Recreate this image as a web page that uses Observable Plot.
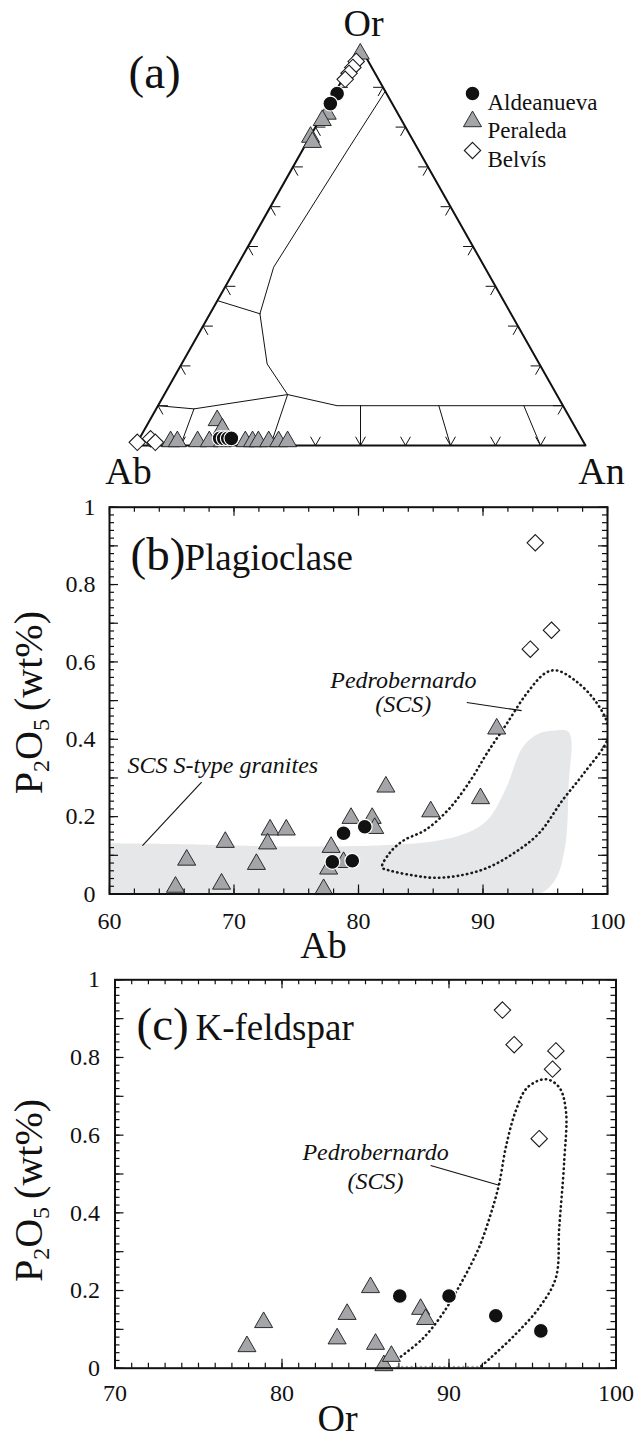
<!DOCTYPE html>
<html>
<head>
<meta charset="utf-8">
<script src="https://cdn.jsdelivr.net/npm/d3@7"></script>
<script src="https://cdn.jsdelivr.net/npm/@observablehq/plot@0.6"></script>
<style>
  html, body { margin: 0; padding: 0; background: #fff; }
  #wrap { position: relative; width: 634px; height: 1440px; overflow: hidden; background: #fff; }
  #wrap svg { position: absolute; left: 0; }
</style>
</head>
<body>
<div id="wrap"></div>
<script>
// ======================= DATA =======================
const seriesNames = ["Aldeanueva", "Peraleda", "Belvís"];

// (a) Ab–An–Or ternary: each point is [An, Or] in mol% (Ab = 100 − An − Or)
const ternAldeanueva = [[0.6, 88.4], [0.35, 85.9], [17.8, 1.8], [18.7, 1.8], [19.6, 1.8], [20.4, 1.8]];
const ternPeraleda = [[0.75, 98.4], [0.95, 83.3], [0.65, 81.7], [0.15, 77.5], [1.2, 76.2],
  [7.3, 1.0], [8.8, 1.0], [13.3, 1.0], [15.9, 1.0], [15.0, 6.3], [17.2, 4.2], [18.8, 1.0],
  [23.9, 1.0], [25.5, 1.0], [26.8, 1.0], [29.1, 1.0], [31.3, 1.0], [33.3, 1.0]];
const ternBelvis = [[0.8, 96.5], [0.8, 95.0], [0.7, 93.5], [0.6, 92.0], [0.0, 0.8], [2.5, 1.7], [4.0, 0.8]];
// field boundaries / tie lines inside the ternary, polylines of [An, Or]
const ternFieldLines = [
  [[11, 89], [10, 74], [8.3, 44.8], [11.1, 33.1]],
  [[0, 36.4], [11.1, 33.1]],
  [[11.1, 33.1], [19.0, 20.5], [27.4, 12.8], [39.8, 10], [90, 10]],
  [[27.4, 12.8], [8.4, 9.2], [0, 10]],
  [[27.4, 12.8], [30, 0]],
  [[8.4, 9.2], [10, 0]],
  [[45, 10], [50, 0]],
  [[62.4, 10], [70, 0]],
  [[81.3, 10], [90, 0]]
];
const ternVertices = [[0, 0], [100, 0], [0, 100]];
const ternVertexLabels = ["Ab", "An", "Or"];
const ternTickValues = [10, 20, 30, 40, 50, 60, 70, 80, 90];

// (b) Plagioclase: Ab vs P2O5 (wt%)
const plagAldeanuevaAb = [78.8, 80.5, 77.9, 79.5];
const plagAldeanuevaP = [0.157, 0.174, 0.083, 0.086];
const plagPeraledaAb = [65.3, 66.2, 69.3, 69.0, 71.8, 72.9, 72.7, 74.2, 77.2, 77.8, 77.6, 78.8, 79.4, 81.1, 81.3, 82.2, 85.8, 89.8, 91.1];
const plagPeraledaP = [0.018, 0.088, 0.134, 0.026, 0.077, 0.166, 0.13, 0.166, 0.012, 0.121, 0.065, 0.082, 0.196, 0.196, 0.17, 0.277, 0.213, 0.247, 0.427];
const plagBelvisAb = [94.2, 95.5, 93.8];
const plagBelvisP = [0.908, 0.682, 0.633];
const plagSCSField = [[60, 0.131], [67, 0.128], [74, 0.123], [80, 0.124], [83, 0.128], [86, 0.136], [88, 0.15],
  [89.5, 0.17], [90.6, 0.2], [91.9, 0.277], [93.2, 0.38], [94.5, 0.415], [95.6, 0.422], [96.8, 0.421],
  [97.1, 0.397], [96.9, 0.294], [96.6, 0.123], [95.8, 0.037], [94.5, 0], [92, 0], [60, 0]];
const plagPedroField = [[81.9, 0.069], [82.5, 0.106], [83.6, 0.138], [85.4, 0.166], [87.3, 0.221], [89, 0.294],
  [90.3, 0.363], [91.9, 0.44], [93.5, 0.518], [95, 0.571], [95.9, 0.578], [97.4, 0.552], [99, 0.5],
  [100, 0.44], [100, 0.4], [98.1, 0.312], [96.4, 0.243], [94.5, 0.157], [92.5, 0.106], [90.3, 0.067],
  [88, 0.047], [86, 0.042], [84.4, 0.048], [82.6, 0.06]];
const plagNotes = [
  {text: "Pedrobernardo", x: 83.6, y: 0.552},
  {text: "(SCS)", x: 83.6, y: 0.49},
  {text: "SCS S-type granites", x: 69.1, y: 0.332}
];
const plagLeaders = [
  {x1: 88.7, y1: 0.495, x2: 93.1, y2: 0.474},
  {x1: 67.4, y1: 0.289, x2: 62.65, y2: 0.125}
];
const plagXTicks = [60, 70, 80, 90, 100];

// (c) K-feldspar: Or vs P2O5 (wt%)
const kfsAldeanuevaOr = [87.05, 90.0, 92.8, 95.5];
const kfsAldeanuevaP = [0.186, 0.186, 0.135, 0.096];
const kfsPeraledaOr = [77.9, 78.9, 83.3, 83.9, 85.3, 85.6, 86.1, 86.55, 88.3, 88.6];
const kfsPeraledaP = [0.056, 0.118, 0.076, 0.139, 0.208, 0.062, 0.007, 0.031, 0.152, 0.126];
const kfsBelvisOr = [93.2, 93.9, 96.4, 96.2, 95.4];
const kfsBelvisP = [0.922, 0.833, 0.817, 0.77, 0.591];
const kfsPedroField = [[86.9, 0.023], [88.4, 0.075], [89.6, 0.139], [90.8, 0.225], [91.8, 0.311], [92.5, 0.397],
  [93.0, 0.474], [93.4, 0.568], [94.0, 0.663], [94.7, 0.723], [95.8, 0.744], [96.6, 0.723], [97.0, 0.663],
  [96.9, 0.534], [96.6, 0.362], [96.4, 0.233], [95.4, 0.156], [94.0, 0.088], [92.5, 0.027], [91.9, 0.004]];
const kfsPedroBase = [[86.9, 0.004], [91.9, 0.004]];
const kfsNotes = [
  {text: "Pedrobernardo", x: 85.6, y: 0.556},
  {text: "(SCS)", x: 85.6, y: 0.481}
];
const kfsLeaders = [{x1: 88.9, y1: 0.522, x2: 93.0, y2: 0.471}];
const kfsXTicks = [70, 80, 90, 100];

const p2o5YTicks = [0, 0.2, 0.4, 0.6, 0.8, 1];
const yLabelParts = [["P", false], ["2", true], ["O", false], ["5", true], ["\u2009(wt%)", false]];

// ======================= STYLE =======================
const W = 634;
const FONT = "Liberation Serif, Times New Roman, serif";
const INK = "#111";
const symbolStyle = {
  "Aldeanueva": {symbol: "circle", fill: "#111", stroke: "#fff", strokeWidth: 1.2, r: 7.4},
  "Peraleda": {symbol: "triangle", fill: "#a3a5a8", stroke: "#1a1a1a", strokeWidth: 0.9, r: 6.7},
  "Belvís": {symbol: "diamond2", fill: "#fff", stroke: "#1a1a1a", strokeWidth: 1.1, r: 7.4}
};
const drawOrder = ["Peraleda", "Belvís", "Aldeanueva"];
const plotStyle = {fontFamily: FONT, fontSize: "24px", color: INK, background: "transparent", overflow: "visible"};
const dotted = {stroke: "#1a1a1a", strokeWidth: 2.6, strokeDasharray: "0.4 4.3", strokeLinecap: "round"};

const wrap = document.getElementById("wrap");
function place(svg, top) { svg.style.top = top + "px"; wrap.appendChild(svg); return svg; }
const zip = (xs, ys) => xs.map((x, i) => ({x, y: ys[i]}));

// ======================= (a) TERNARY =======================
const tRows = arr => arr.map(([An, Or]) => ({An, Or, Ab: 100 - An - Or}));
const tX = d => d.An + d.Or / 2;
const tY = d => d.Or;
const ternBySeries = {"Aldeanueva": ternAldeanueva, "Peraleda": ternPeraleda, "Belvís": ternBelvis};

const fieldRows = ternFieldLines.flatMap((line, id) => tRows(line).map(p => ({...p, id})));
const TL = 2.2;
const ternTicks = [];
for (const k of ternTickValues) {
  ternTicks.push([[k, 0], [k, TL]], [[k, 0], [k - TL, TL]]);                               // Ab–An edge
  ternTicks.push([[0, k], [TL, k]], [[0, k], [TL, k - TL]]);                               // Ab–Or edge
  ternTicks.push([[100 - k, k], [100 - k - TL, k]], [[100 - k, k], [100 - k, k - TL]]);    // An–Or edge
}
const segX = (s, i) => s[i][0] + s[i][1] / 2;
const vertexRows = tRows(ternVertices).map((d, i) => ({...d, label: ternVertexLabels[i]}));
const vertexOffsets = {Ab: [-7, 38], An: [16, 38], Or: [3, -12]};
const legendDy = [46, 74, 103];

const marksA = [
  Plot.line(fieldRows, {x: tX, y: tY, z: "id", stroke: INK, strokeWidth: 1}),
  Plot.link(ternTicks, {x1: s => segX(s, 0), y1: s => s[0][1], x2: s => segX(s, 1), y2: s => s[1][1], stroke: INK, strokeWidth: 1}),
  Plot.line(vertexRows, {x: tX, y: tY, curve: "linear-closed", stroke: INK, strokeWidth: 2}),
  ...drawOrder.map(name => Plot.dot(tRows(ternBySeries[name]), {x: tX, y: tY, ...symbolStyle[name]})),
  ...vertexRows.map(v => Plot.text([v], {x: tX, y: tY, text: d => d.label, dx: vertexOffsets[v.label][0], dy: vertexOffsets[v.label][1], textAnchor: "middle", lineAnchor: "bottom", fontSize: 38, fontFamily: FONT})),
  Plot.text(["(a)"], {frameAnchor: "top-left", text: d => d, dx: -7, dy: 40, textAnchor: "start", lineAnchor: "bottom", fontSize: 47, fontFamily: FONT}),
  ...seriesNames.flatMap((name, i) => [
    Plot.dot([name], {frameAnchor: "top-left", dx: 337, dy: legendDy[i], ...symbolStyle[name]}),
    Plot.text([name], {frameAnchor: "top-left", dx: 352, dy: legendDy[i], text: d => d, textAnchor: "start", fontSize: 23, fontFamily: FONT})
  ])
];

place(Plot.plot({
  width: W, height: 490,
  marginLeft: 135, marginRight: 49, marginTop: 47, marginBottom: 45,
  x: {domain: [0, 100], axis: null},
  y: {domain: [0, 100], axis: null},
  style: plotStyle,
  marks: marksA
}), 0);

// ======================= (b) & (c) SCATTER PANELS =======================
function fixSubscripts(svg, raw) {
  svg.querySelectorAll("text").forEach(t => {
    if (t.textContent !== raw) return;
    t.textContent = "";
    let shifted = false;
    for (const [s, sub] of yLabelParts) {
      const ts = document.createElementNS("http://www.w3.org/2000/svg", "tspan");
      ts.textContent = s;
      if (sub) { ts.setAttribute("font-size", "0.6em"); ts.setAttribute("dy", "7"); }
      else if (shifted) ts.setAttribute("dy", "-7");
      shifted = sub;
      t.appendChild(ts);
    }
  });
}

function scatterPanel(cfg) {
  const fw = W - cfg.ml - cfg.mr, fh = cfg.h - cfg.mt - cfg.mb;
  const minorLen = 5, majorLen = 9;
  const tickStyle = {stroke: INK, strokeWidth: 1.2};
  const rawLabel = yLabelParts.map(p => p[0]).join("");
  const marks = [
    ...cfg.back,
    Plot.ruleX(cfg.xMinor, {x: d => d, insetTop: fh - minorLen, ...tickStyle}),
    Plot.ruleX(cfg.xMinor, {x: d => d, insetBottom: fh - minorLen, ...tickStyle}),
    Plot.ruleX(cfg.xMajor, {x: d => d, insetTop: fh - majorLen, ...tickStyle}),
    Plot.ruleX(cfg.xMajor, {x: d => d, insetBottom: fh - majorLen, ...tickStyle}),
    Plot.ruleY(cfg.yMinor, {y: d => d, insetRight: fw - minorLen, ...tickStyle}),
    Plot.ruleY(cfg.yMinor, {y: d => d, insetLeft: fw - minorLen, ...tickStyle}),
    Plot.ruleY(cfg.yMajor, {y: d => d, insetRight: fw - majorLen, ...tickStyle}),
    Plot.ruleY(cfg.yMajor, {y: d => d, insetLeft: fw - majorLen, ...tickStyle}),
    Plot.link(cfg.leaders, {x1: "x1", y1: "y1", x2: "x2", y2: "y2", stroke: INK, strokeWidth: 1.1}),
    Plot.text(cfg.notes, {x: "x", y: "y", text: "text", fontStyle: "italic", fontSize: 24, fontFamily: FONT}),
    ...drawOrder.map(name => Plot.dot(cfg.points[name], {x: "x", y: "y", ...symbolStyle[name]})),
    Plot.frame({stroke: INK, strokeWidth: 2}),
    Plot.axisX(cfg.xLabels, {anchor: "bottom", tickSize: 0, tickPadding: cfg.xPad, fontSize: 24, fontFamily: FONT, label: null}),
    Plot.axisY(p2o5YTicks, {anchor: "left", tickSize: 0, tickPadding: cfg.yPad, fontSize: 24, fontFamily: FONT, label: null, tickFormat: d => String(d)}),
    Plot.text([cfg.panel], {frameAnchor: "top-left", text: d => d, dx: cfg.panelDx, dy: cfg.titleDy, textAnchor: "start", lineAnchor: "bottom", fontSize: 47, fontFamily: FONT}),
    Plot.text([cfg.title], {frameAnchor: "top-left", text: d => d, dx: cfg.titleDx, dy: cfg.titleDy, textAnchor: "start", lineAnchor: "bottom", fontSize: 37, fontFamily: FONT}),
    Plot.text([cfg.xName], {frameAnchor: "bottom-left", text: d => d, dx: cfg.xNameDx, dy: cfg.xNameDy, textAnchor: "middle", lineAnchor: "bottom", fontSize: 38, fontFamily: FONT}),
    Plot.text([rawLabel], {frameAnchor: "left", text: d => d, dx: cfg.yNameDx, dy: cfg.yNameDy, rotate: -90, textAnchor: "middle", fontSize: 40, fontFamily: FONT})
  ];
  const svg = Plot.plot({
    width: W, height: cfg.h,
    marginLeft: cfg.ml, marginRight: cfg.mr, marginTop: cfg.mt, marginBottom: cfg.mb,
    x: {domain: cfg.xDomain},
    y: {domain: [0, 1]},
    style: plotStyle,
    marks
  });
  fixSubscripts(svg, rawLabel);
  return svg;
}

// (b)
place(scatterPanel({
  h: 470, ml: 109, mr: 27, mt: 16.7, mb: 66.5,
  xDomain: [60, 100],
  xMinor: d3.range(60, 100.5, 2), xMajor: plagXTicks,
  yMinor: d3.range(0, 1.001, 0.02), yMajor: d3.range(0, 1.001, 0.1),
  xLabels: plagXTicks, xPad: 18, yPad: 14,
  back: [
    Plot.line(plagSCSField, {x: d => d[0], y: d => d[1], curve: "catmull-rom", fill: "#e6e7e8", stroke: "none", clip: true}),
    Plot.line(plagPedroField, {x: d => d[0], y: d => d[1], curve: "catmull-rom-closed", ...dotted, clip: true})
  ],
  leaders: plagLeaders, notes: plagNotes,
  points: {
    "Aldeanueva": zip(plagAldeanuevaAb, plagAldeanuevaP),
    "Peraleda": zip(plagPeraledaAb, plagPeraledaP),
    "Belvís": zip(plagBelvisAb, plagBelvisP)
  },
  panel: "(b)", panelDx: 21, title: "Plagioclase", titleDx: 75, titleDy: 63,
  xName: "Ab", xNameDx: 214, xNameDy: 64,
  yNameDx: -80, yNameDy: 2
}), 490);

// (c)
place(scatterPanel({
  h: 480, ml: 114.5, mr: 18.5, mt: 19.3, mb: 72.3,
  xDomain: [70, 100],
  xMinor: d3.range(70, 100.5, 1), xMajor: kfsXTicks,
  yMinor: d3.range(0, 1.001, 0.02), yMajor: d3.range(0, 1.001, 0.1),
  xLabels: kfsXTicks, xPad: 16, yPad: 15,
  back: [
    Plot.line(kfsPedroBase, {x: d => d[0], y: d => d[1], ...dotted, stroke: "#aaa", strokeWidth: 2}),
    Plot.line(kfsPedroField, {x: d => d[0], y: d => d[1], curve: "catmull-rom", ...dotted, clip: true})
  ],
  leaders: kfsLeaders, notes: kfsNotes,
  points: {
    "Aldeanueva": zip(kfsAldeanuevaOr, kfsAldeanuevaP),
    "Peraleda": zip(kfsPeraledaOr, kfsPeraledaP),
    "Belvís": zip(kfsBelvisOr, kfsBelvisP)
  },
  panel: "(c)", panelDx: 21.5, title: "K-feldspar", titleDx: 80.5, titleDy: 60,
  xName: "Or", xNameDx: 222.5, xNameDy: 63,
  yNameDx: -85.5, yNameDy: 16.5
}), 960);
</script>
</body>
</html>
